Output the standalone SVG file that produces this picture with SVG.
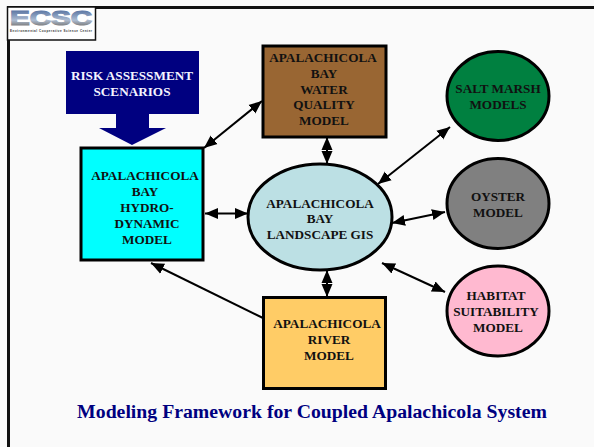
<svg xmlns="http://www.w3.org/2000/svg" width="594" height="447" viewBox="0 0 594 447">
<style>
text{font-family:"Liberation Serif","Times New Roman",serif;font-weight:bold;font-size:13.200px;text-anchor:middle;fill:#111}
.s{stroke:#000;stroke-width:3}
.c{stroke:#000;stroke-width:2;fill:none;marker-start:url(#a);marker-end:url(#a)}
.e{stroke:#000;stroke-width:2;fill:none;marker-end:url(#a)}
</style>
<defs>
<marker id="a" markerUnits="userSpaceOnUse" markerWidth="14" markerHeight="14" refX="13" refY="5.500" orient="auto-start-reverse" viewBox="0 0 14 11"><path d="M0 0L13 5.500L0 11Z" fill="#000"/></marker>
<linearGradient id="l" x1="0" y1="0" x2="0" y2="1"><stop offset="0" stop-color="#3d5c92"/><stop offset=".6" stop-color="#aebdd2"/><stop offset="1" stop-color="#5f574c"/></linearGradient>
</defs>
<rect width="594" height="447" fill="#fafafa"/>
<path d="M8.500 447V7.500H594" fill="none" stroke="#111" stroke-width="3"/>
<g id="logo">
<rect x="7.500" y="7" width="88" height="33" fill="#fff" stroke="#111" stroke-width="1.500"/>
<text x="51" y="25" style="font-family:'Liberation Sans',sans-serif;font-size:20px;font-weight:bold;fill:url(#l);stroke:url(#l);stroke-width:1.200" textLength="82" lengthAdjust="spacingAndGlyphs">ECSC</text>
<text x="51" y="32" style="font-family:'Liberation Sans',sans-serif;font-size:3px;fill:#333" textLength="82">Environmental Cooperative Science Center</text>
</g>
<g id="connectors">
<path class="c" d="M204 148L262 101"/>
<path class="c" d="M327 137V164"/>
<path class="c" d="M205 213.500H248"/>
<path class="c" d="M378 184L450 127"/>
<path class="c" d="M392 223L445 212"/>
<path class="c" d="M382 263L445 292"/>
<path class="c" d="M327 270V297"/>
<path class="e" d="M263 318L151 263"/>
</g>
<g id="risk">
<path d="M66 51H199V114H149V128H166L132 145L99 128H116V114H66Z" fill="#000080"/>
<text x="132" y="80" style="fill:#f4f4ff">RISK ASSESSMENT</text>
<text x="132" y="96" style="fill:#f4f4ff">SCENARIOS</text>
</g>
<g id="hydro">
<rect class="s" x="81" y="148" width="122" height="112" fill="#00ffff"/>
<text x="145" y="180">APALACHICOLA</text><text x="145" y="196">BAY</text><text x="147" y="212">HYDRO-</text><text x="147" y="228">DYNAMIC</text><text x="147" y="244">MODEL</text>
</g>
<g id="water">
<rect class="s" x="263" y="46" width="123" height="91" fill="#996633"/>
<text x="323" y="62">APALACHICOLA</text><text x="324" y="78">BAY</text><text x="324" y="94">WATER</text><text x="324" y="109">QUALITY</text><text x="324" y="125">MODEL</text>
</g>
<g id="gis">
<ellipse class="s" cx="320" cy="217" rx="72" ry="53" fill="#bce0e4"/>
<text x="320" y="208">APALACHICOLA</text><text x="320" y="223">BAY</text><text x="320" y="239">LANDSCAPE GIS</text>
</g>
<g id="river">
<rect class="s" x="263.500" y="297.500" width="122" height="91" fill="#ffcc66"/>
<text x="327" y="328">APALACHICOLA</text><text x="329" y="344">RIVER</text><text x="329" y="360">MODEL</text>
</g>
<g id="salt">
<ellipse class="s" cx="498" cy="96" rx="51" ry="44.500" fill="#008040"/>
<text x="498" y="93">SALT MARSH</text><text x="498" y="109">MODELS</text>
</g>
<g id="oyster">
<ellipse class="s" cx="498" cy="203.500" rx="51" ry="45" fill="#808080"/>
<text x="498" y="201">OYSTER</text><text x="498" y="217">MODEL</text>
</g>
<g id="habitat">
<ellipse class="s" cx="498" cy="311" rx="51" ry="45" fill="#ffb9d0"/>
<text x="496" y="300">HABITAT</text><text x="496" y="316">SUITABILITY</text><text x="498" y="332">MODEL</text>
</g>
<text id="title" x="312" y="418" style="font-size:19.750px;fill:#000080">Modeling Framework for Coupled Apalachicola System</text>
</svg>
